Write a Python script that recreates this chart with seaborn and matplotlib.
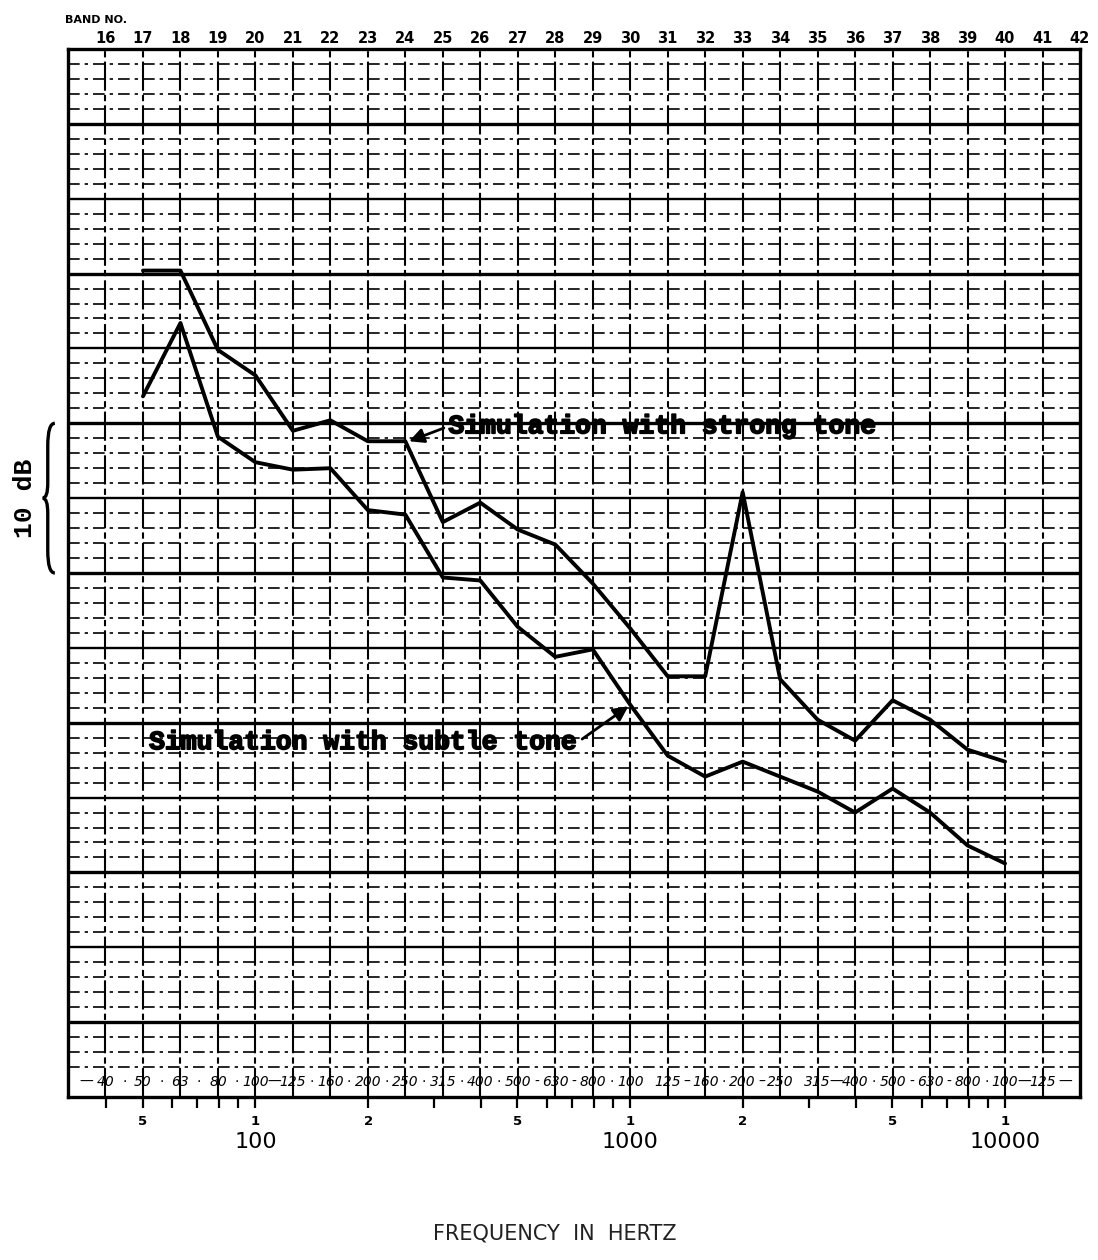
import numpy as np
import pandas as pd
import matplotlib
matplotlib.use("Agg")
import matplotlib.pyplot as plt
import matplotlib.patheffects as pe
import seaborn as sns
from matplotlib import transforms
from matplotlib.path import Path
from matplotlib.patches import PathPatch

# ── Data ──────────────────────────────────────────────────
bands = list(range(17, 41))
strong_db = [55.2, 55.2, 49.9, 48.2, 44.5, 45.2, 43.8, 43.8, 38.4, 39.7, 37.9, 36.9,
             34.3, 31.3, 28.1, 28.1, 40.4, 27.9, 25.2, 23.8, 26.5, 25.2, 23.2, 22.4]
subtle_db = [46.8, 51.7, 44.1, 42.4, 41.9, 42.0, 39.2, 38.9, 34.7, 34.5, 31.4, 29.4,
             29.9, 26.2, 22.8, 21.4, 22.4, 21.4, 20.4, 19.0, 20.6, 19.0, 16.8, 15.6]

top_bands = list(range(16, 43))
band_freqs = ["40", "50", "63", "80", "100", "125", "160", "200", "250", "315", "400", "500", "630",
              "800", "100", "125", "160", "200", "250", "315", "400", "500", "630", "800", "100", "125"]
band_seps = ["·", "·", "·", "·", "—", "·", "·", "·", "·", "·", "·", "-", "-", "·", " ",
             "–", "·", "–", " ", "—", "·", "-", "-", "·", "—"]

major_hz = [50, 100, 200, 500, 1000, 2000, 5000, 10000]
major_lbl = ["5", "1", "2", "5", "1", "2", "5", "1"]
minor_hz = [40, 60, 70, 80, 90, 300, 400, 600, 700, 800, 900,
            3000, 4000, 6000, 7000, 8000, 9000]
decade_hz = [100, 1000, 10000]

df = pd.concat([
    pd.DataFrame({"band": bands, "level": strong_db, "series": "strong"}),
    pd.DataFrame({"band": bands, "level": subtle_db, "series": "subtle"}),
])

# ── Figure ────────────────────────────────────────────────
sns.set_style("white")
plt.rcParams["font.family"] = ["DejaVu Sans"]
plt.rcParams["text.color"] = "black"
plt.rcParams["xtick.labelcolor"] = "black"

fig = plt.figure(figsize=(10.98, 12.6), dpi=100)
ax = fig.add_axes([68 / 1098, 163 / 1260, 1012 / 1098, 1048 / 1260])
ax.set_xlim(15, 42)
ax.set_ylim(0, 70)

# graph paper grid
for b in range(16, 42):
    ax.axvline(b, color="black", lw=1.5, ls=(0, (14, 2, 3, 2)), zorder=1)
for d in range(2, 70):
    if d % 10 == 5:
        ax.axhline(d, color="black", lw=2.4, zorder=1)
    elif d % 10 == 0:
        ax.axhline(d, color="black", lw=1.7, zorder=1)
    else:
        ax.axhline(d, color="black", lw=1.2, ls=(0, (7, 3, 2, 3)), zorder=1)

sns.lineplot(data=df, x="band", y="level", hue="series", units="series",
             palette={"strong": "black", "subtle": "black"}, estimator=None,
             legend=False, lw=2.8, ax=ax, zorder=3)

for s in ax.spines.values():
    s.set_linewidth(2.4)
    s.set_color("black")

# left stubs at the heavy lines
ax.set_yticks([5, 15, 25, 35, 45, 55, 65])
ax.set_yticklabels([])
ax.tick_params(axis="y", direction="out", length=8, width=2.4, color="black")
ax.set_ylabel("")

# bottom frequency ticks, top band numbers
ax.set_xticks(10 * np.log10(major_hz))
ax.set_xticklabels(major_lbl, fontsize=9.5, fontweight="bold")
ax.set_xticks(10 * np.log10(minor_hz), minor=True)
ax.tick_params(axis="x", which="both", direction="out", length=8, width=1.6,
               color="black", labelcolor="black", pad=5, bottom=True)
ax.set_xlabel("")

top = ax.secondary_xaxis("top")
top.set_xticks(top_bands)
top.set_xticklabels([str(b) for b in top_bands], fontsize=10.5, fontweight="bold")
top.tick_params(length=0, pad=2, labelcolor="black")
top.spines["top"].set_visible(False)

# third-octave row just above bottom edge
for b, t in zip(range(16, 42), band_freqs):
    ax.text(b, 1.0, t, ha="center", va="center", fontsize=10, style="italic")
for b, t in zip(np.arange(16.5, 41, 1), band_seps):
    ax.text(b, 1.0, t, ha="center", va="center", fontsize=10)
ax.text(15.5, 1.0, "—", ha="center", va="center", fontsize=10)
ax.text(41.6, 1.0, "—", ha="center", va="center", fontsize=10)

trans_fx = transforms.blended_transform_factory(ax.transData, fig.transFigure)
for f in decade_hz:
    ax.text(10 * np.log10(f), 1 - 1142 / 1260, str(f), transform=trans_fx,
            ha="center", va="center", fontsize=16)

fig.text(555 / 1098, 1 - 1233 / 1260, "FREQUENCY  IN  HERTZ", ha="center",
         va="center", fontsize=15, color="#222222")
fig.text(65 / 1098, 1 - 20 / 1260, "BAND NO.", ha="left", va="center",
         fontsize=8, fontweight="bold")

# 10 dB brace
trans_ay = transforms.blended_transform_factory(ax.transAxes, ax.transData)
tip, body, cusp = -0.013, -0.020, -0.025
verts = [(tip, 45), (body, 45), (body, 43.5), (body, 41), (body, 40), (cusp, 40),
         (body, 40), (body, 39), (body, 36.5), (body, 35), (tip, 35)]
codes = [Path.MOVETO, Path.CURVE3, Path.CURVE3, Path.LINETO, Path.CURVE3, Path.CURVE3,
         Path.CURVE3, Path.CURVE3, Path.LINETO, Path.CURVE3, Path.CURVE3]
ax.add_patch(PathPatch(Path(verts, codes), fill=False, lw=2.4, color="black",
                       transform=trans_ay, clip_on=False))
ax.text(-0.0425, 40, "10 dB", transform=trans_ay, rotation=90, ha="center",
        va="center", fontsize=19, fontweight="bold", family="Liberation Mono",
        color="black")

# annotations
heavy = [pe.withStroke(linewidth=1.2, foreground="black")]
arrow = dict(arrowstyle="-|>", color="black", lw=2, mutation_scale=22)
ax.annotate("Simulation with strong tone", xy=(24.1, 43.8), xytext=(25.15, 44.8),
            ha="left", va="center", fontsize=19, fontweight="bold", color="black",
            family="Liberation Mono", path_effects=heavy,
            arrowprops=dict(arrow, relpos=(0, 0.5), shrinkA=1, shrinkB=0))
ax.annotate("Simulation with subtle tone", xy=(29.95, 26.1), xytext=(28.6, 23.7),
            ha="right", va="center", fontsize=19, fontweight="bold", color="black",
            family="Liberation Mono", path_effects=heavy,
            arrowprops=dict(arrow, relpos=(1, 0.5), shrinkA=1, shrinkB=0))

plt.savefig("out.png", dpi=100)
